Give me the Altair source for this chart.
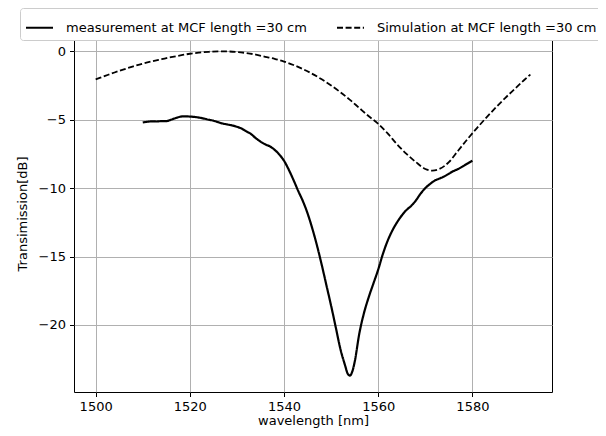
import altair as alt
import pandas as pd

# measurement series (wavelength nm, transmission dB)
meas_wl = [1510, 1511, 1512, 1513, 1514, 1515, 1516, 1517, 1518, 1519, 1520, 1521, 1522, 1523,
           1524, 1525, 1526, 1527, 1528, 1529, 1530, 1531, 1532, 1533, 1534, 1535, 1536, 1537,
           1538, 1539, 1540, 1541, 1542, 1543, 1544, 1545, 1546, 1547, 1548, 1549, 1550, 1551,
           1552, 1553, 1553.5, 1554, 1554.5, 1555, 1556, 1557, 1558, 1559, 1560, 1561, 1562,
           1563, 1564, 1565, 1566, 1567, 1568, 1569, 1570, 1571, 1572, 1573, 1574, 1575, 1576,
           1577, 1578, 1579, 1580]
meas_db = [-5.2, -5.15, -5.12, -5.13, -5.1, -5.1, -5.0, -4.88, -4.78, -4.75, -4.77, -4.8, -4.85,
           -4.92, -5.0, -5.07, -5.18, -5.28, -5.35, -5.42, -5.52, -5.65, -5.85, -6.05, -6.35, -6.6,
           -6.8, -6.95, -7.2, -7.55, -8.0, -8.65, -9.4, -10.2, -10.95, -11.85, -12.95, -14.2,
           -15.6, -17.1, -18.6, -20.2, -21.8, -23.0, -23.55, -23.7, -23.4, -22.7, -20.6, -19.1,
           -17.95, -16.95, -15.95, -14.8, -13.85, -13.1, -12.5, -12.0, -11.6, -11.3, -10.9,
           -10.4, -10.0, -9.7, -9.45, -9.3, -9.15, -8.95, -8.75, -8.6, -8.4, -8.2, -8.0]

# simulation series
sim_wl = [1500, 1502, 1504, 1506, 1508, 1510, 1512, 1514, 1516, 1518, 1520, 1522, 1524, 1526,
          1528, 1530, 1532, 1534, 1536, 1538, 1540, 1542, 1544, 1546, 1548, 1550, 1552, 1554,
          1556, 1558, 1560, 1562, 1564, 1566, 1568, 1570, 1571.5, 1573, 1575, 1577, 1579, 1581,
          1583, 1585, 1587, 1589, 1591, 1592.3]
sim_db = [-2.05, -1.8, -1.55, -1.32, -1.1, -0.9, -0.73, -0.58, -0.43, -0.3, -0.18, -0.1, -0.04,
          0.0, -0.01, -0.05, -0.13, -0.24, -0.4, -0.55, -0.75, -1.0, -1.3, -1.65, -2.05, -2.5,
          -3.0, -3.55, -4.15, -4.75, -5.3, -6.0, -6.8, -7.5, -8.1, -8.6, -8.72, -8.6, -8.1,
          -7.25, -6.4, -5.6, -4.83, -4.1, -3.4, -2.75, -2.1, -1.7]

series_names = ["measurement at MCF length =30 cm", "Simulation at MCF length =30 cm"]
x_ticks = [1500, 1520, 1540, 1560, 1580]
y_ticks = [-20, -15, -10, -5, 0]

df_m = pd.DataFrame({"wl": meas_wl, "db": meas_db, "series": series_names[0]})
df_s = pd.DataFrame({"wl": sim_wl, "db": sim_db, "series": series_names[1]})

FONT = "DejaVu Sans"
FS = 13

x_enc = alt.X("wl:Q", scale=alt.Scale(domain=[1495.4, 1596.9], nice=False, zero=False),
              axis=alt.Axis(values=x_ticks, format="d", title="wavelength [nm]",
                            titleBaseline="alphabetic", titleY=32))
y_enc = alt.Y("db:Q", scale=alt.Scale(domain=[-24.9, 1.19], nice=False, zero=False),
              axis=alt.Axis(values=y_ticks, format="d", title="Transimission[dB]"))
dash_enc = alt.StrokeDash(
    "series:N",
    scale=alt.Scale(domain=series_names, range=[[1, 0], [6, 2.6]]),
    legend=alt.Legend(
        title=None, orient="none", legendX=-54, legendY=-27, direction="horizontal",
        columns=2, symbolType="stroke", symbolSize=729, symbolStrokeColor="black",
        symbolStrokeWidth=1.8, labelFont=FONT, labelFontSize=FS, labelColor="black",
        labelOffset=12, columnPadding=26, padding=5, strokeColor="#cccccc",
        fillColor="white", cornerRadius=3, labelLimit=400,
    ),
)

meas = alt.Chart(df_m).mark_line(color="black", strokeWidth=2.2, interpolate="monotone").encode(
    x=x_enc, y=y_enc, strokeDash=dash_enc, order="wl:Q")
sim = alt.Chart(df_s).mark_line(color="black", strokeWidth=1.8, interpolate="monotone").encode(
    x=x_enc, y=y_enc, strokeDash=dash_enc, order="wl:Q")

chart = alt.layer(meas, sim).properties(
    width=478, height=357,
    autosize=alt.AutoSizeParams(type="none"),
    padding={"left": 66, "top": 27, "right": 46, "bottom": 36},
).configure_view(
    stroke="black", strokeWidth=1
).configure_axis(
    grid=True, gridColor="#b0b0b0", gridWidth=1, domain=False,
    tickColor="black", tickSize=4.5, tickWidth=1, labelPadding=4,
    labelFont=FONT, labelFontSize=FS, labelColor="black",
    titleFont=FONT, titleFontSize=FS, titleColor="black", titleFontWeight="normal",
).configure_axisY(titlePadding=9)

chart.save("out.html", embed_options={"renderer": "svg", "actions": False})
